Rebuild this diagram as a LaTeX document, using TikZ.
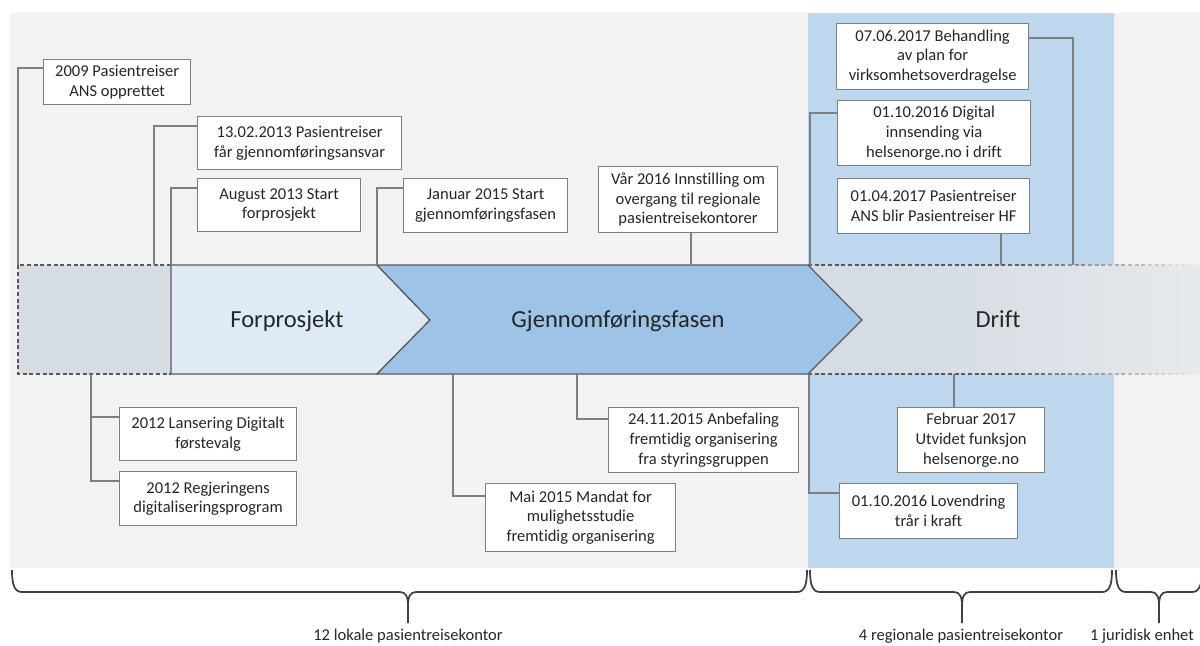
\documentclass[tikz,border=0pt]{standalone}
\usepackage{fontspec}
\setmainfont{Carlito}[Ligatures=NoCommon]
\usetikzlibrary{calc}

\definecolor{bggray}{HTML}{F2F2F2}
\definecolor{regblue}{HTML}{BDD7EE}
\definecolor{prefill}{HTML}{D6DCE4}
\definecolor{forfill}{HTML}{DEEBF7}
\definecolor{gjfill}{HTML}{9DC3E6}
\definecolor{edgec}{HTML}{595959}
\definecolor{linegray}{HTML}{7F7F7F}
\definecolor{txt}{HTML}{262626}
\definecolor{bracec}{HTML}{404040}

\pgfdeclarehorizontalshading{driftshade}{100bp}{color(0bp)=(prefill); color(40bp)=(prefill); color(100bp)=(bggray)}

\newcommand\bxfont{\fontsize{12.4}{14.8}\selectfont}
\newcommand\phfont{\fontsize{18.4}{22}\selectfont}

% curly brace under the timeline: left end, tip, right end
\newcommand\timebrace[3]{%
  \draw[bracestyle] (#1,570) .. controls (#1,586) and (#1+3,592) .. (#1+10,592)
    -- (#2-8,592) .. controls (#2-2,592) and (#2,597) .. (#2,606) -- (#2,623)
    (#2,606) .. controls (#2,597) and (#2+2,592) .. (#2+8,592)
    -- (#3-10,592) .. controls (#3-3,592) and (#3,586) .. (#3,570);}

\begin{document}
\begin{tikzpicture}[x=0.75pt, y=-0.75pt,
  box/.style={draw=linegray, line width=0.9pt, fill=white, align=center,
    text=txt, font=\bxfont, inner sep=1pt, anchor=north west},
  sz/.style 2 args={minimum width=#1*0.75pt, minimum height=#2*0.75pt},
  conn/.style={draw=linegray, line width=1pt},
  outline/.style={draw=edgec, line width=0.9pt},
  dashline/.style={line width=0.9pt, dash pattern=on 3pt off 2pt},
  phase/.style={text=txt, font=\phfont, anchor=base, inner sep=0pt},
  bracestyle/.style={draw=bracec, line width=1.3pt},
  blabel/.style={text=txt, font=\bxfont, anchor=base, inner sep=0pt}]

\useasboundingbox (0,0) rectangle (1200,646);

% backgrounds
\fill[bggray] (10,13) rectangle (1200,568);
\fill[regblue] (808,13) rectangle (1114,568);

% phase bar
\fill[prefill] (18,265) rectangle (171,374);
\draw[dashline, draw=edgec] (171,265) -- (18,265) -- (18,374) -- (171,374);

\shade[shading=driftshade] (808,265) -- (1200,265) -- (1200,374) -- (808,374) -- (862,320) -- cycle;
\draw[dashline, draw=edgec] (808,265) -- (1008,265);
\draw[dashline, draw=edgec] (808,374) -- (1008,374);
\foreach \i in {0,...,9} {
  \pgfmathtruncatemacro\pc{95-10*\i}
  \draw[dashline, draw=edgec!\pc!bggray] (1008+20*\i,265) -- ++(20,0);
  \draw[dashline, draw=edgec!\pc!bggray] (1008+20*\i,374) -- ++(20,0);
}

\path[outline, fill=forfill] (171,265) -- (377,265) -- (430,320) -- (377,374) -- (171,374) -- cycle;
\path[outline, fill=gjfill] (377,265) -- (808,265) -- (862,320) -- (808,374) -- (377,374) -- (430,320) -- cycle;

\node[phase] (pfor) at (287,327) {Forprosjekt};
\node[phase] (pgj) at (618,327) {Gjennomføringsfasen};
\node[phase] (pdrift) at (998,327) {Drift};

% attachment points on the bar
\coordinate (t2009) at (18,265);
\coordinate (t2013a) at (154,265);
\coordinate (t2013b) at (171,265);
\coordinate (t2015jan) at (377,265);
\coordinate (t2016) at (691,265);
\coordinate (t2016okt) at (810,265);
\coordinate (t2017apr) at (1001,265);
\coordinate (t2017jun) at (1073,265);
\coordinate (t2012) at (91,374);
\coordinate (t2015mai) at (453,374);
\coordinate (t2015nov) at (577,374);
\coordinate (t2016lov) at (809,374);
\coordinate (t2017feb) at (954,374);

% event boxes above the bar
\node[box, sz={147}{45}] (b2009) at (43,59) {2009 Pasientreiser\\ANS opprettet};
\node[box, sz={204}{53}] (b2013a) at (197,116) {13.02.2013 Pasientreiser\\får gjennomføringsansvar};
\node[box, sz={163}{53}] (b2013b) at (197,178) {August 2013 Start\\forprosjekt};
\node[box, sz={164}{54}] (b2015jan) at (403,178) {Januar 2015 Start\\gjennomføringsfasen};
\node[box, sz={179}{66}] (b2016) at (598,166) {Vår 2016 Innstilling om\\overgang til regionale\\pasientreisekontorer};
\node[box, sz={192}{66}] (b2017jun) at (836,23) {07.06.2017 Behandling\\av plan for\\virksomhetsoverdragelse};
\node[box, sz={193}{65}] (b2016okt) at (837,100) {01.10.2016 Digital\\innsending via\\helsenorge.no i drift};
\node[box, sz={192}{55}] (b2017apr) at (837,178) {01.04.2017 Pasientreiser\\ANS blir Pasientreiser HF};

% event boxes below the bar
\node[box, sz={177}{53}] (b2012a) at (119,407) {2012 Lansering Digitalt\\førstevalg};
\node[box, sz={177}{54}] (b2012b) at (119,471) {2012 Regjeringens\\digitaliseringsprogram};
\node[box, sz={190}{65}] (b2015nov) at (608,407) {24.11.2015 Anbefaling\\fremtidig organisering\\fra styringsgruppen};
\node[box, sz={190}{68}] (b2015mai) at (485,483) {Mai 2015 Mandat for\\mulighetsstudie\\fremtidig organisering};
\node[box, sz={147}{65}] (b2017feb) at (897,407) {Februar 2017\\Utvidet funksjon\\helsenorge.no};
\node[box, sz={178}{55}] (b2016lov) at (839,483) {01.10.2016 Lovendring\\trår i kraft};

% connectors
\draw[conn] ($(b2009.north west)+(0,9)$) -| (t2009);
\draw[conn] ($(b2013a.north west)+(0,10)$) -| (t2013a);
\draw[conn] ($(b2013b.north west)+(0,10)$) -| (t2013b);
\draw[conn] ($(b2015jan.north west)+(0,10)$) -| (t2015jan);
\draw[conn] (b2016.south -| t2016) -- (t2016);
\draw[conn] ($(b2017jun.north east)+(0,15)$) -| (t2017jun);
\draw[conn] ($(b2016okt.north west)+(0,13)$) -| (t2016okt);
\draw[conn] (b2017apr.south -| t2017apr) -- (t2017apr);
\draw[conn] (t2012) |- ($(b2012b.north west)+(0,10)$);
\draw[conn] ($(b2012a.north west)+(0,10)$) -| (t2012);
\draw[conn] ($(b2015nov.north west)+(0,12)$) -| (t2015nov);
\draw[conn] ($(b2015mai.north west)+(0,13)$) -| (t2015mai);
\draw[conn] (b2017feb.north -| t2017feb) -- (t2017feb);
\draw[conn] ($(b2016lov.north west)+(0,10)$) -| (t2016lov);

% braces and their labels
\timebrace{12}{408}{807}
\timebrace{810}{962}{1112}
\timebrace{1116}{1159}{1202}

\node[blabel] (l12) at (408,640) {12 lokale pasientreisekontor};
\node[blabel] (l4) at (961,640) {4 regionale pasientreisekontor};
\node[blabel] (l1) at (1142,640) {1 juridisk enhet};
\end{tikzpicture}
\end{document}
